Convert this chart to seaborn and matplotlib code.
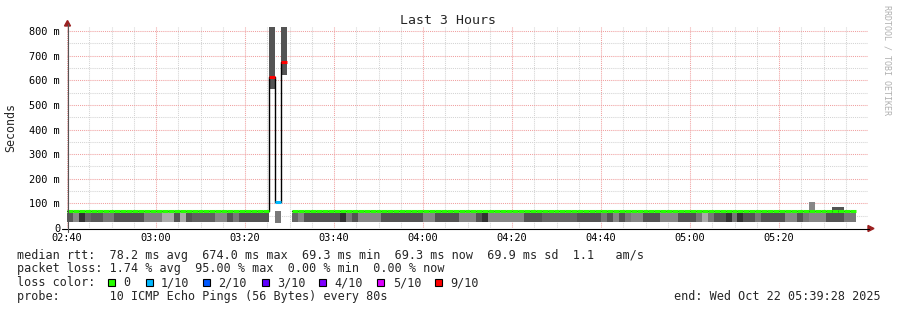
import numpy as np
import pandas as pd
import matplotlib
matplotlib.use("Agg")
import matplotlib.pyplot as plt
from matplotlib.patches import Rectangle, Polygon
from matplotlib.lines import Line2D
import seaborn as sns

nan = np.nan

# ---------------- data ----------------
step_seconds = 80
x_tick_labels = ["02:40", "03:00", "03:20", "03:40", "04:00", "04:20", "04:40", "05:00", "05:20"]
y_tick_values = [0, 100, 200, 300, 400, 500, 600, 700, 800]
y_tick_labels = ["0", "100 m", "200 m", "300 m", "400 m", "500 m", "600 m", "700 m", "800 m"]

# median rtt per 80 s step (ms)
median_ms = [
    69.3, 69.3, 69.3, 69.3, 69.3, 69.3, 69.3, 69.3, 69.3, 69.3, 69.3, 69.3, 69.3, 69.3, 69.3,
    69.3, 69.3, 69.3, 69.3, 69.3, 69.3, 69.3, 69.3, 69.3, 69.3, 69.3, 69.3, 69.3, 69.3, 69.3,
    69.3, 69.3, 69.3, 69.3, 612.0, 105.0, 674.0, nan, 69.3, 69.3, 69.3, 69.3, 69.3, 69.3, 69.3,
    69.3, 69.3, 69.3, 69.3, 69.3, 69.3, 69.3, 69.3, 69.3, 69.3, 69.3, 69.3, 69.3, 69.3, 69.3,
    69.3, 69.3, 69.3, 69.3, 69.3, 69.3, 69.3, 69.3, 69.3, 69.3, 69.3, 69.3, 69.3, 69.3, 69.3,
    69.3, 69.3, 69.3, 69.3, 69.3, 69.3, 69.3, 69.3, 69.3, 69.3, 69.3, 69.3, 69.3, 69.3, 69.3,
    69.3, 69.3, 69.3, 69.3, 69.3, 69.3, 69.3, 69.3, 69.3, 69.3, 69.3, 69.3, 69.3, 69.3, 69.3,
    69.3, 69.3, 69.3, 69.3, 69.3, 69.3, 69.3, 69.3, 69.3, 69.3, 69.3, 69.3, 69.3, 69.3, 69.3,
    69.3, 69.3, 69.3, 69.3, 69.3, 69.3, 69.3, 69.3, 69.3, 69.3, 69.3, 69.3, 69.3, nan, nan,
]

# packet loss per step (tenths of 10 pings)
loss_tenths = [
    0, 0, 0, 0, 0, 0, 0, 0, 0, 0, 0, 0, 0, 0, 0,
    0, 0, 0, 0, 0, 0, 0, 0, 0, 0, 0, 0, 0, 0, 0,
    0, 0, 0, 0, 9, 1, 9, 10, 0, 0, 0, 0, 0, 0, 0,
    0, 0, 0, 0, 0, 0, 0, 0, 0, 0, 0, 0, 0, 0, 0,
    0, 0, 0, 0, 0, 0, 0, 0, 0, 0, 0, 0, 0, 0, 0,
    0, 0, 0, 0, 0, 0, 0, 0, 0, 0, 0, 0, 0, 0, 0,
    0, 0, 0, 0, 0, 0, 0, 0, 0, 0, 0, 0, 0, 0, 0,
    0, 0, 0, 0, 0, 0, 0, 0, 0, 0, 0, 0, 0, 0, 0,
    0, 0, 0, 0, 0, 0, 0, 0, 0, 0, 0, 0, 0, 0, 0,
]

# smoke (spread of the pings) lower / upper bound in ms
smoke_lo_ms = [
    25, 25, 25, 25, 25, 25, 25, 25, 25, 25, 25, 25, 25, 25, 25,
    25, 25, 25, 25, 25, 25, 25, 25, 25, 25, 25, 25, 25, 25, 25,
    25, 25, 25, 25, 565, 20, 620, nan, 25, 25, 25, 25, 25, 25, 25,
    25, 25, 25, 25, 25, 25, 25, 25, 25, 25, 25, 25, 25, 25, 25,
    25, 25, 25, 25, 25, 25, 25, 25, 25, 25, 25, 25, 25, 25, 25,
    25, 25, 25, 25, 25, 25, 25, 25, 25, 25, 25, 25, 25, 25, 25,
    25, 25, 25, 25, 25, 25, 25, 25, 25, 25, 25, 25, 25, 25, 25,
    25, 25, 25, 25, 25, 25, 25, 25, 25, 25, 25, 25, 25, 25, 25,
    25, 25, 25, 25, 25, 25, 25, 25, 25, 25, 25, 25, 25, nan, nan,
]
smoke_hi_ms = [
    62, 62, 62, 62, 62, 62, 62, 62, 62, 62, 62, 62, 62, 62, 62,
    62, 62, 62, 62, 62, 62, 62, 62, 62, 62, 62, 62, 62, 62, 62,
    62, 62, 62, 62, 830, 70, 830, nan, 62, 62, 62, 62, 62, 62, 62,
    62, 62, 62, 62, 62, 62, 62, 62, 62, 62, 62, 62, 62, 62, 62,
    62, 62, 62, 62, 62, 62, 62, 62, 62, 62, 62, 62, 62, 62, 62,
    62, 62, 62, 62, 62, 62, 62, 62, 62, 62, 62, 62, 62, 62, 62,
    62, 62, 62, 62, 62, 62, 62, 62, 62, 62, 62, 62, 62, 62, 62,
    62, 62, 62, 62, 62, 62, 62, 62, 62, 62, 62, 62, 62, 62, 62,
    62, 62, 62, 62, 62, 105, 62, 62, 62, 86, 86, 62, 62, nan, nan,
]
# smoke density (darkness of the smoke)
smoke_density = [
    0.65, 0.46, 0.80, 0.60, 0.65, 0.65, 0.53, 0.53, 0.67, 0.67, 0.67, 0.67, 0.67, 0.50, 0.50,
    0.50, 0.33, 0.33, 0.67, 0.33, 0.67, 0.62, 0.62, 0.62, 0.62, 0.47, 0.47, 0.67, 0.53, 0.67,
    0.67, 0.67, 0.67, 0.67, 0.67, 0.53, 0.67, nan, 0.60, 0.47, 0.67, 0.67, 0.67, 0.67, 0.67,
    0.67, 0.80, 0.53, 0.67, 0.47, 0.47, 0.47, 0.47, 0.67, 0.67, 0.67, 0.67, 0.67, 0.67, 0.67,
    0.47, 0.47, 0.67, 0.67, 0.67, 0.67, 0.47, 0.47, 0.47, 0.67, 0.80, 0.47, 0.47, 0.47, 0.47,
    0.47, 0.47, 0.67, 0.67, 0.67, 0.60, 0.60, 0.60, 0.60, 0.60, 0.60, 0.67, 0.67, 0.67, 0.67,
    0.53, 0.67, 0.47, 0.67, 0.53, 0.47, 0.47, 0.67, 0.67, 0.67, 0.47, 0.47, 0.47, 0.67, 0.67,
    0.67, 0.53, 0.33, 0.53, 0.67, 0.67, 0.80, 0.53, 0.80, 0.67, 0.67, 0.53, 0.67, 0.67, 0.67,
    0.67, 0.47, 0.47, 0.67, 0.53, 0.47, 0.47, 0.47, 0.67, 0.67, 0.67, 0.53, 0.53, nan, nan,
]

loss_legend_labels = ["0", "1/10", "2/10", "3/10", "4/10", "5/10", "9/10"]
loss_legend_colors = ["#26ff00", "#00b8ff", "#0059ff", "#5e00ff", "#7e00ff", "#dd00ff", "#ff0000"]

line_rtt = "median rtt:  78.2 ms avg  674.0 ms max  69.3 ms min  69.3 ms now  69.9 ms sd  1.1   am/s"
line_loss = "packet loss: 1.74 % avg  95.00 % max  0.00 % min  0.00 % now"
line_probe = "probe:       10 ICMP Echo Pings (56 Bytes) every 80s"
end_text = "end: Wed Oct 22 05:39:28 2025"
title_text = "Last 3 Hours"

# ---------------- figure ----------------
sns.set_style("white")
plt.rcParams["font.family"] = ["DejaVu Sans Mono", "DejaVu Sans"]

W, H = 897, 310
fig = plt.figure(figsize=(W / 100, H / 100), dpi=100)
fig.patch.set_facecolor("white")


def fx(px):
    return px / W


def fy(py):
    return 1 - py / H


ax = fig.add_axes([fx(67), fy(228), (868 - 67) / W, (228 - 27) / H])
ax.set_facecolor("white")

step_min = step_seconds / 60.0
n = len(median_ms)
df = pd.DataFrame({
    "minute": np.arange(n) * step_min,
    "median": median_ms,
    "loss": loss_tenths,
    "lo": smoke_lo_ms,
    "hi": smoke_hi_ms,
    "density": smoke_density,
})

# smoke
sm = df.dropna(subset=["lo", "hi", "density"])
ax.bar(sm["minute"], sm["hi"] - sm["lo"], bottom=sm["lo"], width=step_min, align="edge",
       color=[str(round(1 - d, 3)) for d in sm["density"]], linewidth=0, zorder=2)

# black median step line (broken at missing data)
df["segment"] = df["median"].isna().cumsum()
ln = df.dropna(subset=["median"])
sns.lineplot(data=ln, x="minute", y="median", units="segment", estimator=None,
             drawstyle="steps-post", color="black", linewidth=1.0, ax=ax, zorder=3, legend=False)

# loss coloured median
loss_colors = {0: "#26ff00", 1: "#00b8ff", 2: "#0059ff", 3: "#5e00ff", 4: "#7e00ff",
               5: "#dd00ff", 6: "#ff0000", 7: "#ff0000", 8: "#ff0000", 9: "#ff0000", 10: "#ff0000"}
med = df.dropna(subset=["median"])
ax.hlines(med["median"], med["minute"], med["minute"] + step_min,
          colors=[loss_colors[int(l)] for l in med["loss"]], linewidth=2.2, zorder=4,
          capstyle="butt")

# axes limits and ticks
ax.set_xlim(0, 180)
ax.set_ylim(0, 817)
ax.set_xticks(np.arange(len(x_tick_labels)) * 20)
ax.set_xticklabels(x_tick_labels)
ax.set_xticks(np.arange(5, 180, 5), minor=True)
ax.set_yticks(y_tick_values)
ax.set_yticklabels(y_tick_labels)
ax.set_yticks(np.arange(50, 800, 100), minor=True)
ax.set_xlabel("")
ax.set_ylabel("")

ax.grid(which="major", color="#f0a0a0", linestyle=(0, (1, 1)), linewidth=0.75)
ax.grid(which="minor", color="#d4d4d4", linestyle=(0, (1, 1)), linewidth=0.75)
ax.set_axisbelow(True)
for s in ax.spines.values():
    s.set_visible(False)
ax.tick_params(axis="both", which="major", length=2, width=0.7, color="#b04040",
               labelsize=7.4, labelcolor="black")
ax.tick_params(axis="x", which="major", pad=1.8)
ax.tick_params(axis="y", which="major", pad=3)
ax.tick_params(which="minor", length=0)

# axis lines with arrows
fig.add_artist(Line2D([fx(62), fx(869)], [fy(228.5), fy(228.5)], color="black", lw=0.8))
fig.add_artist(Line2D([fx(67.5), fx(67.5)], [fy(232), fy(24)], color="#555555", lw=0.8))
fig.add_artist(Polygon([[fx(868), fy(225.5)], [fx(874), fy(228.5)], [fx(868), fy(231.5)]],
                       closed=True, color="#9b2020", transform=fig.transFigure))
fig.add_artist(Polygon([[fx(64.5), fy(26)], [fx(67.5), fy(20.5)], [fx(70.5), fy(26)]],
                       closed=True, color="#9b2020", transform=fig.transFigure))

# texts
mono = "DejaVu Sans Mono"
fig.text(fx(448), fy(24), title_text, ha="center", va="baseline", fontsize=9.5, family=mono)
fig.text(fx(11), fy(127.5), "Seconds", rotation=90, ha="center", va="center", fontsize=8.4, family=mono)
fig.text(fx(887), fy(60), "RRDTOOL / TOBI OETIKER", rotation=-90, ha="center", va="center",
         fontsize=6, color="#b0b0b0", family=mono)

fs = 8.5
fig.text(fx(16.5), fy(258.5), line_rtt, ha="left", va="baseline", fontsize=fs, family=mono)
fig.text(fx(16.5), fy(272.3), line_loss, ha="left", va="baseline", fontsize=fs, family=mono)
fig.text(fx(16.5), fy(286.0), "loss color:", ha="left", va="baseline", fontsize=fs, family=mono)
fig.text(fx(16.5), fy(299.8), line_probe, ha="left", va="baseline", fontsize=fs, family=mono)
fig.text(fx(881), fy(299.8), end_text, ha="right", va="baseline", fontsize=fs, family=mono)

sq_x = [108.3, 145.7, 203.3, 261.7, 319.0, 376.7, 435.0]
txt_x = [123.3, 160.7, 218.3, 276.7, 334.3, 392.7, 450.0]
for sx, tx, lab, col in zip(sq_x, txt_x, loss_legend_labels, loss_legend_colors):
    fig.add_artist(Rectangle((fx(sx), fy(286)), 7 / W, 7.5 / H, transform=fig.transFigure,
                             facecolor=col, edgecolor="black", linewidth=0.8))
    fig.text(fx(tx), fy(286.0), lab, ha="left", va="baseline", fontsize=fs, family=mono)

fig.savefig("out.png", dpi=100, facecolor="white")
